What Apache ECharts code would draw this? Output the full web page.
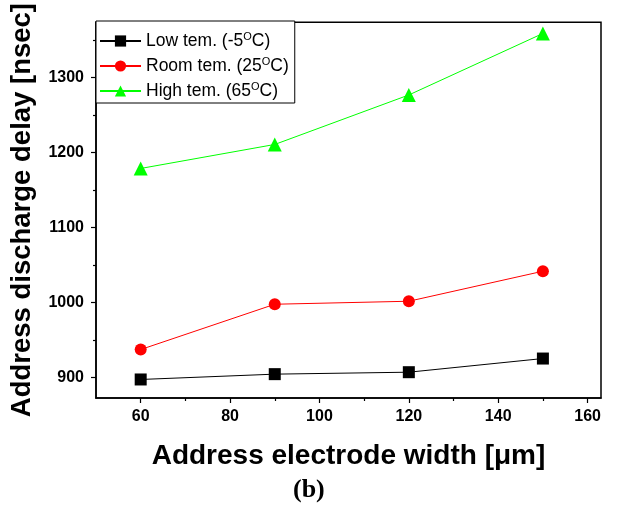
<!DOCTYPE html>
<html>
<head>
<meta charset="utf-8">
<script src="https://cdn.jsdelivr.net/npm/echarts@6/dist/echarts.min.js"></script>
<style>
  html, body { margin: 0; padding: 0; background: #fff; }
  #chart { width: 617px; height: 506px; }
</style>
</head>
<body>
<div id="chart"></div>
<script>
  // electrode width (um)
  var widths = [60, 90, 120, 150];
  var lowTem = [897.7, 904.8, 907.4, 925.6];
  var roomTem = [937.6, 998, 1002, 1042];
  var highTem = [1179, 1211, 1277, 1359];

  var xMajor = [60, 80, 100, 120, 140, 160];
  var xMinor = [70, 90, 110, 130, 150];
  var yMajor = [900, 1000, 1100, 1200, 1300];
  var yMinor = [950, 1050, 1150, 1250, 1350];

  var names = ['Low tem. (-5', 'Room tem. (25', 'High tem. (65'];

  function pairs (ys) {
    return widths.map(function (x, i) { return [x, ys[i]]; });
  }

  var font = 'Liberation Sans';
  var chart = echarts.init(document.getElementById('chart'));

  chart.setOption({
    animation: false,
    grid: {
      left: 96, right: 16, top: 21, bottom: 108,
      show: true, borderColor: '#000', borderWidth: 1.5, backgroundColor: 'transparent'
    },
    legend: {
      orient: 'vertical',
      left: 96, top: 21,
      padding: [10, 6, 3, 3],
      itemWidth: 41, itemHeight: 14, itemGap: 6,
      backgroundColor: '#fff',
      borderColor: '#000', borderWidth: 1,
      borderRadius: 0,
      selectedMode: false,
      formatter: function (n) {
        return '{a|' + n + '}{s|O}{a|C)}';
      },
      textStyle: {
        fontFamily: font,
        rich: {
          a: { fontSize: 17.5, fontFamily: font, color: '#000', lineHeight: 20 },
          s: { fontSize: 11, fontFamily: font, color: '#000', verticalAlign: 'top', lineHeight: 10 }
        }
      },
      data: names
    },
    xAxis: [{
      type: 'value', min: 50, max: 163,
      name: 'Address electrode width [\u03bcm]',
      nameLocation: 'middle', nameGap: 44,
      nameTextStyle: { fontFamily: font, fontSize: 28, fontWeight: 'bold', color: '#000' },
      axisLine: { lineStyle: { color: '#000', width: 1.5 } },
      axisTick: { show: true, length: 5, customValues: xMajor, lineStyle: { color: '#000', width: 1.2 } },
      axisLabel: { customValues: xMajor, margin: 11, fontFamily: font, fontSize: 16, fontWeight: 'bold', color: '#000' },
      splitLine: { show: false }
    }, {
      type: 'value', min: 50, max: 163, position: 'bottom',
      axisLine: { show: false },
      axisTick: { show: true, length: 3, customValues: xMinor, lineStyle: { color: '#000', width: 1.2 } },
      axisLabel: { show: false, customValues: xMinor },
      splitLine: { show: false }
    }],
    yAxis: [{
      type: 'value', min: 873, max: 1374,
      name: 'Address discharge delay [nsec]',
      nameLocation: 'middle', nameGap: 60,
      nameTextStyle: { fontFamily: font, fontSize: 27.5, fontWeight: 'bold', color: '#000' },
      axisLine: { show: true, lineStyle: { color: '#000', width: 1.5 } },
      axisTick: { show: true, length: 5, customValues: yMajor, lineStyle: { color: '#000', width: 1.2 } },
      axisLabel: {
        customValues: yMajor, margin: 12, fontFamily: font, fontSize: 16, fontWeight: 'bold', color: '#000',
        formatter: function (v) { return String(v); }
      },
      splitLine: { show: false }
    }, {
      type: 'value', min: 873, max: 1374, position: 'left',
      axisLine: { show: false },
      axisTick: { show: true, length: 3, customValues: yMinor, lineStyle: { color: '#000', width: 1.2 } },
      axisLabel: { show: false, customValues: yMinor },
      splitLine: { show: false }
    }],
    series: [{
      name: names[0], type: 'line', data: pairs(lowTem),
      symbol: 'rect', symbolSize: 12,
      itemStyle: { color: '#000' }, lineStyle: { color: '#000', width: 1 }
    }, {
      name: names[1], type: 'line', data: pairs(roomTem),
      symbol: 'circle', symbolSize: 12,
      itemStyle: { color: '#ff0000' }, lineStyle: { color: '#ff0000', width: 1 }
    }, {
      name: names[2], type: 'line', data: pairs(highTem),
      symbol: 'triangle', symbolSize: 14,
      itemStyle: { color: '#00ff00' }, lineStyle: { color: '#00ff00', width: 1 }
    }],
    graphic: [{
      type: 'text', left: 293, top: 477,
      style: { text: '(b)', fontFamily: 'Liberation Serif', fontSize: 26, fontWeight: 'bold', fill: '#000' }
    }]
  });
</script>
</body>
</html>
